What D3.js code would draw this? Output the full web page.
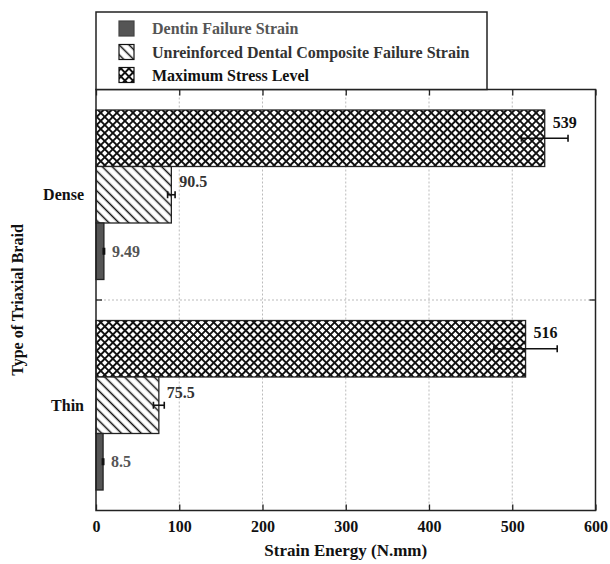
<!DOCTYPE html>
<html>
<head>
<meta charset="utf-8">
<script src="https://cdn.jsdelivr.net/npm/d3@7"></script>
<style>
  body { margin: 0; background: #fff; }
  text { font-family: "Liberation Serif", "Times New Roman", serif; font-weight: bold; }
</style>
</head>
<body>
<div id="chart"></div>
<script>
// data
const braids = ["Dense", "Thin"];
const seriesNames = ["Maximum Stress Level", "Unreinforced Dental Composite Failure Strain", "Dentin Failure Strain"];
const maxStress = [539, 516];
const maxStressErr = [28, 38];
const composite = [90.5, 75.5];
const compositeErr = [4.5, 6.5];
const dentin = [9.49, 8.5];
const dentinErr = [0.8, 0.8];
const legendOrder = ["Dentin Failure Strain", "Unreinforced Dental Composite Failure Strain", "Maximum Stress Level"];
const xTicks = [0, 100, 200, 300, 400, 500, 600];

const width = 610, height = 564;
const plotLeft = 96, plotRight = 595.5, plotTop = 89.5, plotBottom = 510.5;

const svg = d3.select("#chart").append("svg")
    .attr("width", width)
    .attr("height", height);

const defs = svg.append("defs");

const cross = defs.append("pattern")
    .attr("id", "cross")
    .attr("patternUnits", "userSpaceOnUse")
    .attr("width", 5.7).attr("height", 5.7)
    .attr("patternTransform", "rotate(45)");
cross.append("rect").attr("width", 5.7).attr("height", 5.7).attr("fill", "#fff");
cross.append("path")
    .attr("d", "M0,2.85H5.7M2.85,0V5.7")
    .attr("stroke", "#111").attr("stroke-width", 1.9);

const hatch = defs.append("pattern")
    .attr("id", "hatch")
    .attr("patternUnits", "userSpaceOnUse")
    .attr("width", 7).attr("height", 7)
    .attr("patternTransform", "rotate(-45)");
hatch.append("rect").attr("width", 7).attr("height", 7).attr("fill", "#fff");
hatch.append("path")
    .attr("d", "M3.5,0V7")
    .attr("stroke", "#111").attr("stroke-width", 1.5);

const fills = {
    "Maximum Stress Level": "url(#cross)",
    "Unreinforced Dental Composite Failure Strain": "url(#hatch)",
    "Dentin Failure Strain": "#555"
};
const labelColors = {
    "Maximum Stress Level": "#111",
    "Unreinforced Dental Composite Failure Strain": "#333",
    "Dentin Failure Strain": "#555"
};
const labelShift = {
    "Maximum Stress Level": -16,
    "Unreinforced Dental Composite Failure Strain": -13,
    "Dentin Failure Strain": 0
};

const x = d3.scaleLinear().domain([0, 600]).range([plotLeft, plotRight]);
const y = d3.scaleBand().domain(braids).range([plotTop, plotBottom]);
const ySub = d3.scaleBand().domain(seriesNames).range([0, y.bandwidth()]).paddingOuter(0.363);

const rows = [];
braids.forEach((b, i) => {
    rows.push({ braid: b, series: seriesNames[0], value: maxStress[i], err: maxStressErr[i] });
    rows.push({ braid: b, series: seriesNames[1], value: composite[i], err: compositeErr[i] });
    rows.push({ braid: b, series: seriesNames[2], value: dentin[i], err: dentinErr[i] });
});

// grid
svg.append("g")
    .selectAll("line")
    .data(xTicks.slice(1, -1))
    .join("line")
    .attr("x1", d => x(d)).attr("x2", d => x(d))
    .attr("y1", plotTop).attr("y2", plotBottom)
    .attr("stroke", "#bbb").attr("stroke-dasharray", "2,2");

svg.append("line")
    .attr("x1", plotLeft).attr("x2", plotRight)
    .attr("y1", y("Thin")).attr("y2", y("Thin"))
    .attr("stroke", "#bbb").attr("stroke-dasharray", "2,2");

// bars
const barG = svg.append("g");
barG.selectAll("rect")
    .data(rows)
    .join("rect")
    .attr("x", x(0))
    .attr("y", d => y(d.braid) + ySub(d.series))
    .attr("width", d => x(d.value) - x(0))
    .attr("height", ySub.bandwidth())
    .attr("fill", d => fills[d.series])
    .attr("stroke", "#222")
    .attr("stroke-width", 1.3);

// error bars
const errG = svg.append("g").attr("stroke", "#111").attr("stroke-width", 1.6);
rows.forEach(d => {
    const cy = y(d.braid) + ySub(d.series) + ySub.bandwidth() / 2;
    const x0 = x(d.value - d.err), x1 = x(d.value + d.err);
    errG.append("line").attr("x1", x0).attr("x2", x1).attr("y1", cy).attr("y2", cy);
    errG.append("line").attr("x1", x0).attr("x2", x0).attr("y1", cy - 3.5).attr("y2", cy + 3.5);
    errG.append("line").attr("x1", x1).attr("x2", x1).attr("y1", cy - 3.5).attr("y2", cy + 3.5);
});

// value labels
svg.append("g")
    .selectAll("text")
    .data(rows)
    .join("text")
    .attr("x", d => x(d.value) + 8)
    .attr("y", d => y(d.braid) + ySub(d.series) + ySub.bandwidth() / 2 + labelShift[d.series])
    .attr("dy", "0.35em")
    .attr("font-size", 16)
    .attr("fill", d => labelColors[d.series])
    .text(d => d.value);

// axes
const xAxis = svg.append("g")
    .attr("transform", `translate(0,${plotBottom})`)
    .call(d3.axisBottom(x).tickValues(xTicks).tickSizeInner(-6).tickSizeOuter(0).tickPadding(10));
xAxis.select(".domain").remove();
xAxis.selectAll("line").attr("stroke", "#222").attr("stroke-width", 1.3);
xAxis.selectAll("text").attr("font-size", 16).attr("fill", "#111")
    .style("font-family", "'Liberation Serif', serif").style("font-weight", "bold");

const xTop = svg.append("g")
    .attr("transform", `translate(0,${plotTop})`)
    .call(d3.axisTop(x).tickValues(xTicks).tickSizeInner(-6).tickSizeOuter(0).tickFormat(""));
xTop.select(".domain").remove();
xTop.selectAll("line").attr("stroke", "#222").attr("stroke-width", 1.3);

// category boundary ticks
[[plotLeft, plotLeft + 6], [plotRight, plotRight - 6]].forEach(([a, b]) => {
    svg.append("line")
        .attr("x1", a).attr("x2", b)
        .attr("y1", y("Thin")).attr("y2", y("Thin"))
        .attr("stroke", "#222").attr("stroke-width", 1.3);
});

// category labels
svg.append("g")
    .selectAll("text")
    .data(braids)
    .join("text")
    .attr("x", plotLeft - 12)
    .attr("y", d => y(d) + ySub("Unreinforced Dental Composite Failure Strain") + ySub.bandwidth() / 2)
    .attr("dy", "0.35em")
    .attr("text-anchor", "end")
    .attr("font-size", 16)
    .attr("fill", "#111")
    .text(d => d);

// frame
svg.append("rect")
    .attr("x", plotLeft).attr("y", plotTop)
    .attr("width", plotRight - plotLeft).attr("height", plotBottom - plotTop)
    .attr("fill", "none").attr("stroke", "#222").attr("stroke-width", 1.5);

// axis titles
svg.append("text")
    .attr("x", (plotLeft + plotRight) / 2)
    .attr("y", 556)
    .attr("text-anchor", "middle")
    .attr("font-size", 17)
    .attr("fill", "#111")
    .text("Strain Energy (N.mm)");

svg.append("text")
    .attr("transform", `translate(23,${(plotTop + plotBottom) / 2}) rotate(-90)`)
    .attr("text-anchor", "middle")
    .attr("font-size", 16)
    .attr("fill", "#111")
    .text("Type of Triaxial Braid");

// legend
const legend = svg.append("g");
legend.append("rect")
    .attr("x", plotLeft).attr("y", 12)
    .attr("width", 391).attr("height", plotTop - 12)
    .attr("fill", "#fff").attr("stroke", "#222").attr("stroke-width", 1.5);

const legendY = [28.5, 52, 75];
legendOrder.forEach((name, i) => {
    legend.append("rect")
        .attr("x", 119).attr("y", legendY[i] - 7.5)
        .attr("width", 15).attr("height", 15)
        .attr("fill", fills[name])
        .attr("stroke", name === "Dentin Failure Strain" ? "#444" : "#111")
        .attr("stroke-width", 1.2);
    legend.append("text")
        .attr("x", 152).attr("y", legendY[i])
        .attr("dy", "0.35em")
        .attr("font-size", 16)
        .attr("fill", labelColors[name])
        .text(name);
});
</script>
</body>
</html>
